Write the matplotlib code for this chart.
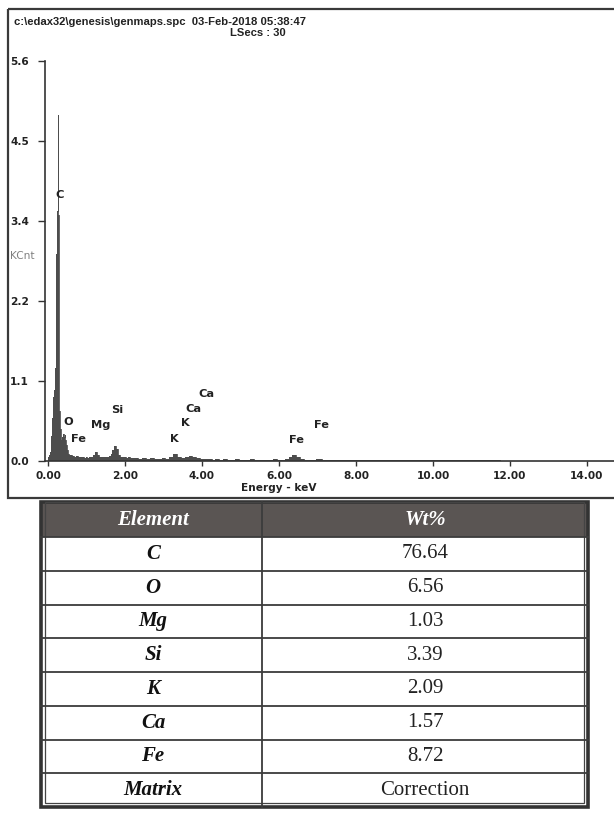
import matplotlib
matplotlib.use("Agg")
import matplotlib.pyplot as plt
from matplotlib.patches import Rectangle

# EDS spectrum (keV, KCnt)
energy = [0.00, 0.02, 0.04, 0.06, 0.08, 0.10, 0.12, 0.14, 0.16, 0.18,
          0.20, 0.22, 0.24, 0.26, 0.28, 0.30, 0.32, 0.34, 0.36, 0.38,
          0.40, 0.42, 0.44, 0.46, 0.48, 0.50, 0.52, 0.54, 0.56,
          0.60, 0.65, 0.70, 0.75, 0.80, 0.85, 0.90, 0.95, 1.00, 1.05,
          1.10, 1.15, 1.20, 1.25, 1.30, 1.35, 1.40, 1.45, 1.50, 1.55,
          1.60, 1.65, 1.70, 1.75, 1.80, 1.85, 1.90, 1.95, 2.00, 2.05,
          2.10, 2.15, 2.20,
          2.3, 2.4, 2.5, 2.6, 2.7, 2.8, 2.9, 3.0, 3.1, 3.2, 3.3, 3.4,
          3.5, 3.6, 3.7, 3.8, 3.9, 4.0, 4.1, 4.2, 4.3, 4.4, 4.5, 4.6,
          4.7, 4.8, 4.9, 5.0, 5.1, 5.2, 5.3, 5.4, 5.5, 5.6, 5.7, 5.8,
          5.9, 6.0, 6.1, 6.2, 6.3, 6.4, 6.5, 6.6, 6.7, 6.8, 6.9, 7.0,
          7.25, 7.5, 7.75, 8.0, 8.25, 8.5, 8.75, 9.0, 9.25, 9.5, 9.75,
          10.0, 10.25, 10.5, 10.75, 11.0, 11.5, 12.0, 13.0, 14.0, 15.0]
counts = [0.03, 0.05, 0.08, 0.12, 0.20, 0.35, 0.60, 0.90, 1.00, 1.15,
          1.30, 2.90, 3.50, 4.85, 3.45, 0.70, 0.45, 0.32, 0.30, 0.34,
          0.38, 0.33, 0.36, 0.30, 0.22, 0.15, 0.12, 0.10, 0.08,
          0.08, 0.07, 0.06, 0.07, 0.05, 0.06, 0.05, 0.04, 0.05, 0.04,
          0.05, 0.05, 0.08, 0.13, 0.09, 0.05, 0.06, 0.05, 0.05, 0.06,
          0.07, 0.10, 0.16, 0.21, 0.17, 0.09, 0.06, 0.05, 0.05, 0.04,
          0.05, 0.04, 0.04,
          0.04, 0.03, 0.04, 0.03, 0.04, 0.03, 0.03, 0.04, 0.03, 0.05, 0.10, 0.06,
          0.04, 0.05, 0.07, 0.05, 0.04, 0.03, 0.03, 0.03, 0.02, 0.03, 0.02, 0.03,
          0.02, 0.02, 0.03, 0.02, 0.02, 0.02, 0.03, 0.02, 0.02, 0.02, 0.02, 0.02,
          0.03, 0.02, 0.02, 0.03, 0.05, 0.08, 0.06, 0.03, 0.02, 0.02, 0.02, 0.03,
          0.02, 0.02, 0.02, 0.02, 0.02, 0.02, 0.02, 0.02, 0.02, 0.02, 0.02,
          0.02, 0.02, 0.01, 0.01, 0.01, 0.01, 0.0, 0.0, 0.0, 0.0]

peak_names = ["C", "O", "Fe", "Mg", "Si", "K", "K", "Ca", "Ca", "Fe", "Fe"]
peak_x = [0.18, 0.39, 0.60, 1.12, 1.64, 3.17, 3.45, 3.56, 3.90, 6.26, 6.91]
peak_y = [3.73, 0.55, 0.31, 0.50, 0.71, 0.31, 0.53, 0.73, 0.94, 0.29, 0.50]

x_ticks = [0, 2, 4, 6, 8, 10, 12, 14]
y_ticks = [0.0, 1.12, 2.24, 3.36, 4.48, 5.6]

elements = ["C", "O", "Mg", "Si", "K", "Ca", "Fe", "Matrix"]
wt_pct = ["76.64", "6.56", "1.03", "3.39", "2.09", "1.57", "8.72", "Correction"]

W, H = 614, 813
fig = plt.figure(figsize=(W / 100, H / 100), dpi=100)
fig.patch.set_facecolor("white")

# overlay in pixel coords for frame, header and table
ov = fig.add_axes([0, 0, 1, 1])
ov.set_xlim(0, W)
ov.set_ylim(H, 0)
ov.axis("off")

ov.add_patch(Rectangle((8, 9), 640, 489, fill=False, lw=1.6, ec="#3a3a3a"))
ov.text(14, 22, "c:\\edax32\\genesis\\genmaps.spc  03-Feb-2018 05:38:47",
        family="Liberation Sans", fontweight="bold", fontsize=8.1,
        va="center", color="#222")
ov.text(258, 33, "LSecs : 30", family="Liberation Sans", fontweight="bold",
        fontsize=8.1, ha="center", va="center", color="#222")
ov.text(10, 256, "KCnt", fontsize=7.6, color="#808080", va="center")

# spectrum axes
x0, px_per_kev = 48, 38.5
xmin = (45 - x0) / px_per_kev
xmax = (640 - x0) / px_per_kev
ax = fig.add_axes([45 / W, (H - 461) / H, (640 - 45) / W, 400 / H])
ax.set_facecolor("none")
ax.fill_between(energy, counts, step="mid", color="#4d4d4d", lw=0)
ax.step(energy, counts, where="mid", color="#4d4d4d", lw=0.6)
ax.set_xlim(xmin, xmax)
ax.set_ylim(0, 5.6)

for s in ["top", "right"]:
    ax.spines[s].set_visible(False)
for s in ["left", "bottom"]:
    ax.spines[s].set_color("#333")
    ax.spines[s].set_linewidth(1.2)

ax.set_xticks(x_ticks, [f"{t:.2f}" for t in x_ticks])
ax.set_yticks(y_ticks, [f"{v:.1f}" for v in y_ticks])
ax.tick_params(axis="x", direction="out", length=3.6, width=1, pad=3.5,
               labelsize=7.6, colors="#333", labelcolor="#222")
ax.tick_params(axis="y", direction="out", length=5, width=1, pad=20,
               labelsize=7.6, colors="#333", labelcolor="#222")
for lab in ax.get_xticklabels() + ax.get_yticklabels():
    lab.set_fontweight("bold")
for lab in ax.get_yticklabels():
    lab.set_ha("left")

ax.set_xlabel("Energy - keV", fontweight="bold", fontsize=7.6, color="#222")
ax.xaxis.set_label_coords((6.0 - xmin) / (xmax - xmin), (461 - 488) / 400)
ax.xaxis.label.set_va("center")

for name, px, py in zip(peak_names, peak_x, peak_y):
    ax.text(px, py, name, fontweight="bold", fontsize=8.2, color="#222",
            ha="left", va="center")

# results table
tl, tr, tc = 41, 588, 262
top, hb, bottom = 502, 537, 807
rh = (bottom - hb) / len(elements)
serif = "Liberation Serif"

ov.add_patch(Rectangle((tl, top), tr - tl, hb - top, color="#5a5553", lw=0))
for i in range(1, len(elements)):
    y = hb + i * rh
    ov.plot([tl, tr], [y, y], color="#3c3c3c", lw=1.3)
ov.plot([tl, tr], [hb, hb], color="#3c3c3c", lw=1.3)
ov.plot([tc, tc], [top, bottom], color="#3c3c3c", lw=1.3)
ov.add_patch(Rectangle((tl, top), tr - tl, bottom - top, fill=False,
                       lw=2.6, ec="#333"))
ov.add_patch(Rectangle((tl + 4, top), tr - tl - 8, bottom - top - 4, fill=False,
                       lw=0.9, ec="#444"))

cx_el, cx_wt = 153, 425
ov.text(cx_el, (top + hb) / 2, "Element", family=serif, fontweight="bold",
        fontstyle="italic", fontsize=15, color="white", ha="center", va="center")
ov.text(cx_wt, (top + hb) / 2, "Wt%", family=serif, fontweight="bold",
        fontstyle="italic", fontsize=15, color="white", ha="center", va="center")
for i, (el, wt) in enumerate(zip(elements, wt_pct)):
    yc = hb + (i + 0.5) * rh
    ov.text(cx_el, yc, el, family=serif, fontweight="bold", fontstyle="italic",
            fontsize=15, color="#111", ha="center", va="center")
    ov.text(cx_wt, yc, wt, family=serif, fontsize=15, color="#222",
            ha="center", va="center")

fig.savefig("out.png", dpi=100)
